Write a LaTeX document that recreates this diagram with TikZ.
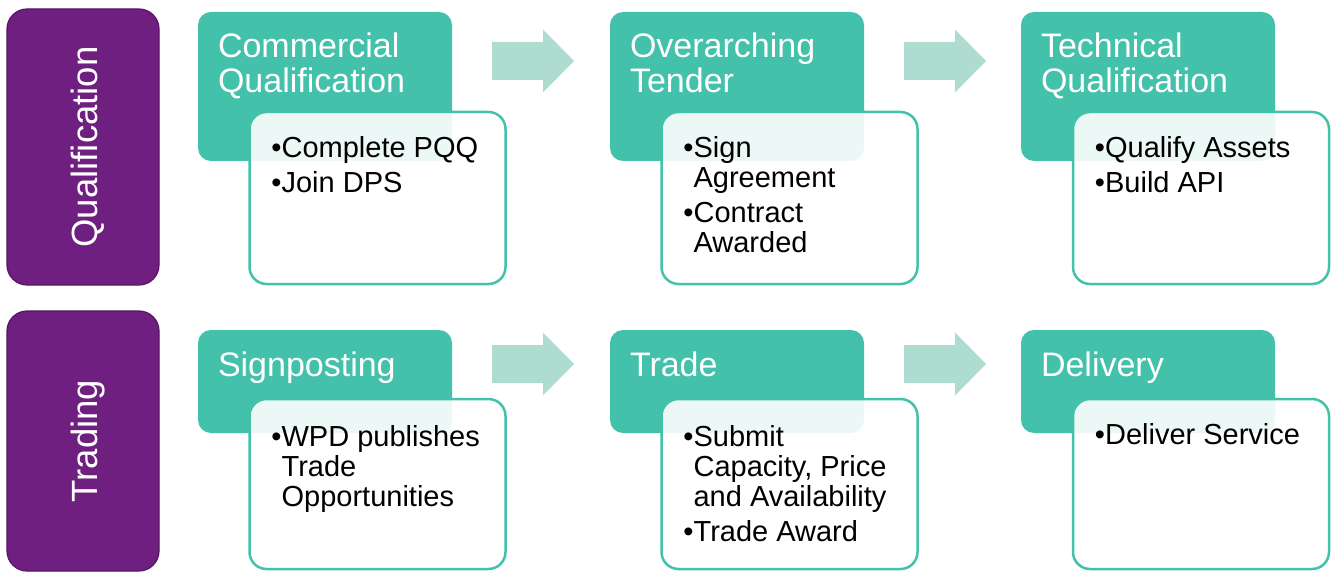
\documentclass[tikz,border=0pt]{standalone}
\usepackage{fontspec}
\setmainfont{Liberation Sans}
\usepackage{tikz}
\usetikzlibrary{calc}
\definecolor{stageteal}{RGB}{67,193,171}
\definecolor{arrowteal}{RGB}{174,220,209}
\definecolor{phasepurple}{RGB}{110,31,128}
\definecolor{phaseedge}{RGB}{86,22,100}

\begin{document}
\begin{tikzpicture}[x=1pt, y=-1pt,
  phase/.style={draw=phaseedge, line width=1.2pt, fill=phasepurple, rounded corners=20pt, minimum width=152pt, inner sep=0pt},
  phaselabel/.style={rotate=90, anchor=base, text=white, inner sep=0pt, font=\fontsize{36.5}{40}\selectfont},
  stage/.style={fill=stageteal, rounded corners=13pt, minimum width=254pt, inner sep=0pt},
  stagelabel/.style={anchor=base west, align=left, text=white, inner sep=0pt, font=\fontsize{34}{35}\selectfont},
  tasks/.style={draw=stageteal, line width=2.5pt, fill=white, fill opacity=0.9, rounded corners=17pt, minimum width=256pt, inner sep=0pt},
  tasklabel/.style={anchor=base west, align=left, text=black, inner sep=0pt, font=\fontsize{29}{30}\selectfont},
  flow/.style={fill=arrowteal}]
\useasboundingbox (0,0) rectangle (1331,572);

% phases on the left
\node[phase, minimum height=276pt] (qual) at (83,147) {};
\node[phaselabel] (qualtext) at ($(qual.center)+(14,0)$) {Qualification};
\node[phase, minimum height=260pt] (trad) at (83,441) {};
\node[phaselabel] (tradtext) at ($(trad.center)+(14,0)$) {Trading};

% stage headers (labels sit on the baseline of their last line)
\node[stage, minimum height=149pt] (comm) at (325,86.5) {};
\node[stage, minimum height=149pt] (tend) at (737,86.5) {};
\node[stage, minimum height=149pt] (tech) at (1148,86.5) {};
\node[stage, minimum height=103pt] (sign) at (325,381.5) {};
\node[stage, minimum height=103pt] (trade) at (737,381.5) {};
\node[stage, minimum height=103pt] (deliv) at (1148,381.5) {};

\node[stagelabel] (commtext) at ($(comm.north west)+(20,81)$) {Commercial\\Qualification};
\node[stagelabel] (tendtext) at ($(tend.north west)+(20,81)$) {Overarching\\Tender};
\node[stagelabel] (techtext) at ($(tech.north west)+(20,81)$) {Technical\\Qualification};
\node[stagelabel] (signtext) at ($(sign.north west)+(20,47)$) {Signposting};
\node[stagelabel] (tradetext) at ($(trade.north west)+(20,47)$) {Trade};
\node[stagelabel] (delivtext) at ($(deliv.north west)+(20,47)$) {Delivery};

% task boxes
\node[tasks, minimum height=172pt] (commlist) at (377.5,198) {};
\node[tasks, minimum height=172pt] (tendlist) at (789.5,198) {};
\node[tasks, minimum height=172pt] (techlist) at (1201,198) {};
\node[tasks, minimum height=170pt] (signlist) at (377.5,484) {};
\node[tasks, minimum height=170pt] (tradelist) at (789.5,484) {};
\node[tasks, minimum height=170pt] (delivlist) at (1201,484) {};

\node[tasklabel] (commitems) at ($(commlist.north west)+(23,82)$) {\textbullet Complete PQQ\\[5pt]\textbullet Join DPS};
\node[tasklabel] (tenditems) at ($(tendlist.north west)+(23,142)$) {\textbullet Sign\\\phantom{\textbullet}Agreement\\[5pt]\textbullet Contract\\\phantom{\textbullet}Awarded};
\node[tasklabel] (techitems) at ($(techlist.north west)+(23,82)$) {\textbullet Qualify Assets\\[5pt]\textbullet Build API};
\node[tasklabel] (signitems) at ($(signlist.north west)+(23,109)$) {\textbullet WPD publishes\\\phantom{\textbullet}Trade\\\phantom{\textbullet}Opportunities};
\node[tasklabel] (tradeitems) at ($(tradelist.north west)+(23,144)$) {\textbullet Submit\\\phantom{\textbullet}Capacity, Price\\\phantom{\textbullet}and Availability\\[5pt]\textbullet Trade Award};
\node[tasklabel] (delivitems) at ($(delivlist.north west)+(23,47)$) {\textbullet Deliver Service};

% block arrows between stages
\coordinate (a1) at (492,61);
\coordinate (a2) at (904,61);
\coordinate (a3) at (492,364);
\coordinate (a4) at (904,364);
\fill[flow] ($(a1)+(0,-19)$) -- ++(51,0) -- ++(0,-12.5) -- ++(31,31.5) -- ++(-31,31.5) -- ++(0,-12.5) -- ++(-51,0) -- cycle;
\fill[flow] ($(a2)+(0,-19)$) -- ++(51,0) -- ++(0,-12.5) -- ++(31,31.5) -- ++(-31,31.5) -- ++(0,-12.5) -- ++(-51,0) -- cycle;
\fill[flow] ($(a3)+(0,-19)$) -- ++(51,0) -- ++(0,-12.5) -- ++(31,31.5) -- ++(-31,31.5) -- ++(0,-12.5) -- ++(-51,0) -- cycle;
\fill[flow] ($(a4)+(0,-19)$) -- ++(51,0) -- ++(0,-12.5) -- ++(31,31.5) -- ++(-31,31.5) -- ++(0,-12.5) -- ++(-51,0) -- cycle;

\end{tikzpicture}
\end{document}
